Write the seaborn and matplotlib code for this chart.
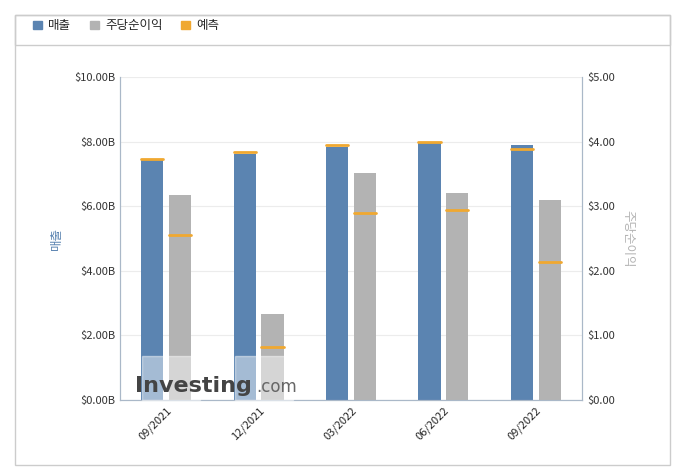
import matplotlib
matplotlib.use("Agg")
import matplotlib.pyplot as plt
import matplotlib.patches as mpatches
import seaborn as sns
import numpy as np

# ------------------------------------------------------------------
#  Data
# ------------------------------------------------------------------
quarters = ["09/2021", "12/2021", "03/2022", "06/2022", "09/2022"]
revenue = [7.43, 7.62, 7.83, 7.96, 7.89]          # $B
revenue_fcst = [7.46, 7.68, 7.89, 7.99, 7.77]
eps = [3.17, 1.33, 3.51, 3.20, 3.10]
eps_fcst = [2.55, 0.82, 2.89, 2.94, 2.14]

BLUE = "#5b84b1"
GRAY = "#b3b3b3"
ORANGE = "#f0a830"

sns.set_style("white")
plt.rcParams["font.family"] = ["Noto Sans CJK KR", "DejaVu Sans"]

fig = plt.figure(figsize=(6.8, 4.74), dpi=100)
ax = fig.add_axes([120 / 680, 74 / 474, 462 / 680, 323 / 474])
ax2 = ax.twinx()

idx = np.arange(len(quarters))
off = 0.15
w = 0.24

sns.barplot(x=idx - off, y=revenue, native_scale=True, width=w,
            color=BLUE, saturation=1, linewidth=0, ax=ax, zorder=2)
sns.barplot(x=idx + off, y=eps, native_scale=True, width=w,
            color=GRAY, saturation=1, linewidth=0, ax=ax2, zorder=2)

for i in idx:
    ax.plot([i - off - w / 2, i - off + w / 2], [revenue_fcst[i]] * 2,
            color=ORANGE, lw=2, zorder=3)
    ax2.plot([i + off - w / 2, i + off + w / 2], [eps_fcst[i]] * 2,
             color=ORANGE, lw=2, zorder=3)

ax.set_xlim(-0.5, len(quarters) - 0.5)
ax.set_ylim(0, 10)
ax2.set_ylim(0, 5)
ax.set_yticks(np.arange(0, 10.1, 2))
ax.set_yticklabels([f"${v:.2f}B" for v in np.arange(0, 10.1, 2)])
ax2.set_yticks(np.arange(0, 5.1, 1))
ax2.set_yticklabels([f"${v:.2f}" for v in np.arange(0, 5.1, 1)])
ax.set_xticks(idx)
ax.set_xticklabels(quarters, rotation=45, ha="right", rotation_mode="anchor")
ax.tick_params(axis="y", labelsize=8, length=0, colors="#333333")
ax2.tick_params(axis="y", labelsize=8, length=0, colors="#333333")
ax.set_xticks(np.arange(-0.5, len(quarters)), minor=True)
ax.tick_params(axis="x", which="minor", length=5, color="#aab8c8")
ax.tick_params(axis="x", which="major", length=0, labelsize=8)

ax.yaxis.grid(True, color="#ececec", lw=0.8, zorder=0)
ax.set_axisbelow(True)
for a in (ax, ax2):
    a.spines["top"].set_visible(False)
    for s in ("left", "right", "bottom"):
        a.spines[s].set_color("#aab8c8")

ax.set_ylabel("매출", color=BLUE, fontsize=9, labelpad=8)
ax2.set_ylabel("주당순이익", color=GRAY, fontsize=9, rotation=270, labelpad=14)

# watermark
for x0 in [142 / 680, 235 / 680]:
    fig.patches.append(mpatches.Rectangle((x0, 74 / 474), 58 / 680, 44 / 474,
                       transform=fig.transFigure, color="white", alpha=0.45,
                       zorder=5))
fig.text(135 / 680, 82 / 474, "Investing", fontsize=16, fontweight="bold",
         color="#444444", family="DejaVu Sans", zorder=6)
fig.text(256 / 680, 82 / 474, ".com", fontsize=12, color="#666666",
         family="DejaVu Sans", zorder=6)

# outer frame and legend box
fig.patches.append(mpatches.Rectangle((15 / 680, 9 / 474), 655 / 680, 450 / 474,
                   transform=fig.transFigure, fill=False, ec="#cccccc", lw=1))
fig.patches.append(mpatches.Rectangle((15 / 680, 429 / 474), 655 / 680, 30 / 474,
                   transform=fig.transFigure, fill=False, ec="#cccccc", lw=1))
handles = [mpatches.Patch(color=BLUE, label="매출"),
           mpatches.Patch(color=GRAY, label="주당순이익"),
           mpatches.Patch(color=ORANGE, label="예측")]
fig.legend(handles=handles, loc="upper left", bbox_to_anchor=(22 / 680, 466 / 474),
           ncol=3, frameon=False, fontsize=9, handlelength=0.7,
           handleheight=0.7, columnspacing=1.5, handletextpad=0.5)

fig.savefig("out.png", dpi=100)
